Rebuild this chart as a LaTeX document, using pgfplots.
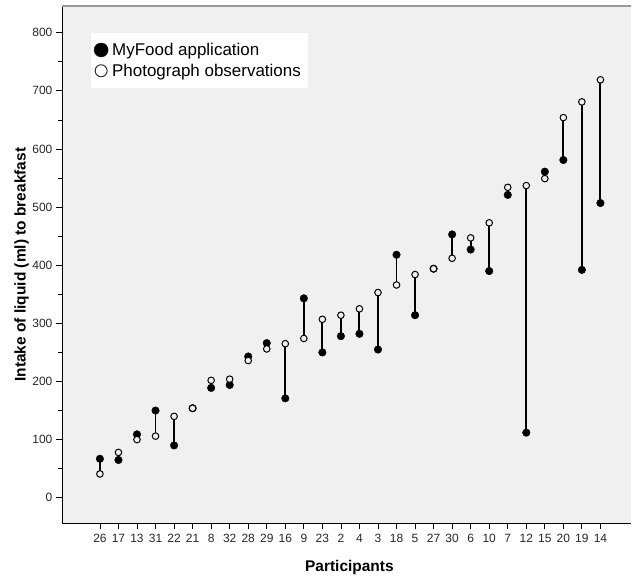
\documentclass[border=0pt]{standalone}
\usepackage{fontspec}
\setmainfont{Liberation Sans}
\usepackage{pgfplots}
\usepackage{pgfplotstable}
\pgfplotsset{compat=1.18}

\definecolor{panel}{HTML}{F0F0F0}
\definecolor{frametop}{HTML}{9A9A9A}

% intake of liquid (ml) per participant: MyFood app vs. photograph observation
\pgfplotstableread{
i name mf  ph
0  26  67  41
1  17  65  78
2  13  109 100
3  31  150 106
4  22  90  140
5  21  154 154
6  8   189 202
7  32  194 204
8  28  243 236
9  29  266 256
10 16  171 265
11 9   343 274
12 23  250 307
13 2   278 314
14 4   282 325
15 3   255 353
16 18  418 366
17 5   314 384
18 27  394 394
19 30  453 412
20 6   427 447
21 10  390 473
22 7   521 534
23 12  112 537
24 15  561 549
25 20  581 654
26 19  392 681
27 14  507 719
}\intake

\begin{document}
\begin{tikzpicture}
\begin{axis}[
  name=ax,
  scale only axis,
  width=570pt, height=518pt,
  xmin=-2.05, xmax=28.66,
  ymin=-44, ymax=846,
  axis background/.style={fill=panel},
  axis x line*=bottom, axis y line*=left,
  axis line style={black, line width=0.8pt},
  x axis line style={-}, y axis line style={-},
  tick align=outside,
  tick style={black, line width=0.8pt},
  major tick length=6pt, minor tick length=3.5pt,
  xtick={0,...,27},
  xticklabels from table={\intake}{name},
  ytick={0,100,...,800},
  minor ytick={50,150,...,750},
  /pgf/number format/assume math mode=true,
  tick label style={font=\fontsize{12}{14}\selectfont, text=black!85},
  xticklabel style={yshift=-1pt},
  xlabel={Participants},
  ylabel={Intake of liquid (ml) to breakfast},
  label style={font=\fontsize{15.5}{17}\selectfont\bfseries},
  xlabel style={at={(axis description cs:0.505,-0.085)}, anchor=center},
  ylabel style={at={(axis description cs:-0.071,0.5)}, anchor=center},
  legend style={at={(axis description cs:0.051,0.948)}, anchor=north west,
    fill=white, draw=none, font=\fontsize{17}{19}\selectfont,
    inner xsep=3pt, inner ysep=8.5pt, row sep=4pt,
    nodes={inner ysep=1.5pt, inner xsep=4pt}},
  legend cell align=left,
  clip=false,
]
  % connecting segments between the two measurements
  \addplot [draw=none, forget plot,
    error bars/.cd, y dir=plus, y explicit,
    error mark=none, error bar style={black, line width=1.9pt}]
    table [x=i, y expr={min(\thisrow{mf},\thisrow{ph})},
           y error expr={abs(\thisrow{ph}-\thisrow{mf})}] {\intake};
  % MyFood application
  \addplot [only marks, forget plot, mark=*, mark size=3.8pt,
    mark options={fill=black, draw=black}]
    table [x=i, y=mf] {\intake};
  % photograph observations
  \addplot [only marks, forget plot, mark=*, mark size=3.3pt,
    mark options={fill=panel, draw=black, line width=1pt}]
    table [x=i, y=ph] {\intake};

  \addlegendimage{only marks, mark=*, mark size=7pt, mark options={fill=black, draw=black}}
  \addlegendentry{MyFood application}
  \addlegendimage{only marks, mark=*, mark size=6pt, mark options={fill=white, draw=black!80, line width=1pt}}
  \addlegendentry{Photograph observations}
\end{axis}
\draw [frametop, line width=1.6pt] (ax.north west) -- (ax.north east);
\path ([shift={(-62pt,-57pt)}]ax.south west) rectangle ([shift={(0pt,6pt)}]ax.north east);
\end{tikzpicture}
\end{document}
